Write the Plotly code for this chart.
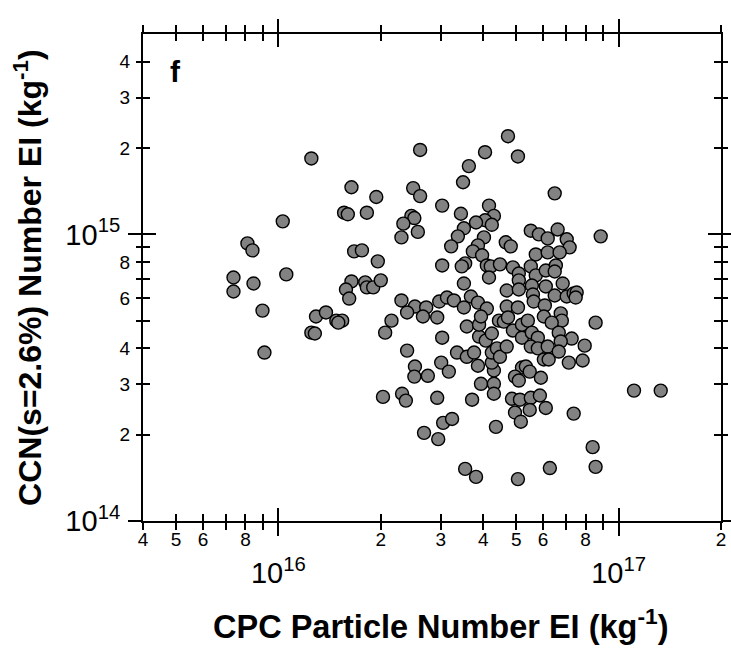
import numpy as np
import plotly.graph_objects as go

# CPC particle number EI, in units of 1e16 kg^-1
cpc_1e16 = [
    1.25, 1.64, 1.94, 1.56, 1.60, 1.82, 1.03, 0.811, 0.839, 1.67, 1.76, 1.96, 1.055, 0.738,
    0.845, 0.738, 1.64, 1.80, 1.82, 1.90, 2.00, 1.58, 1.615, 0.898, 1.29, 1.38, 1.25, 1.28,
    1.48, 1.54, 1.50, 0.910, 2.06, 2.03,
    4.73, 2.61, 4.05, 5.06, 3.63, 3.49, 2.49, 2.61, 3.03, 4.16, 3.44, 2.46, 2.51, 2.33,
    4.30, 4.05, 4.24, 3.81, 3.51, 2.30, 2.57, 3.37, 3.22, 4.02, 3.86, 3.73, 3.97, 4.66,
    4.82, 5.52, 5.83, 6.19, 5.71, 6.19, 3.03, 3.54, 3.46, 4.10, 4.21, 4.48, 4.16, 4.89,
    5.52, 5.09, 5.71, 5.09, 6.11, 3.51, 4.69, 5.09, 5.56, 5.60, 6.11, 2.30, 2.52, 2.72,
    2.97, 3.13, 3.28, 3.51, 3.68, 3.86, 4.10, 4.69, 5.06, 5.63, 6.07, 2.39,
    2.15, 2.66, 2.93, 3.03, 2.39, 2.52, 2.51, 2.75, 3.01, 3.17, 2.31, 2.37, 2.93, 3.71,
    3.05, 3.24, 2.68, 2.95, 4.36, 3.54, 3.81, 5.06, 6.28, 3.35, 3.58, 3.76, 3.86, 3.94,
    4.30, 4.30, 4.30, 4.24, 3.58, 3.89, 3.89, 3.94, 4.07, 4.24, 4.24, 4.39, 4.48, 4.69,
    4.45, 4.60, 4.73, 4.89, 5.20, 5.20, 5.41, 5.56, 5.79, 5.52, 5.79, 6.03, 6.03, 5.20,
    5.34, 5.48, 4.96, 5.09, 5.91, 4.86, 5.13, 5.52, 5.87, 4.96, 5.48, 5.16, 6.11,
    6.49, 8.86, 6.62, 7.04, 7.18, 6.71, 6.54, 6.49, 6.85, 6.49, 7.04, 7.38, 7.53, 7.48, 6.76,
    8.56, 6.81, 6.36, 6.67, 7.28, 6.76, 7.95, 6.19, 6.67, 6.23, 7.14, 7.84, 7.38, 11.1,
    13.3, 8.39, 8.56,
]

# CCN(s=2.6%) number EI, in units of 1e14 kg^-1
ccn_1e14 = [
    18.4, 14.6, 13.5, 11.9, 11.75, 11.9, 11.1, 9.30, 8.79, 8.72, 8.79, 8.05, 7.25, 7.07,
    6.74, 6.32, 6.85, 6.80, 6.53, 6.53, 6.91, 6.42, 5.97, 5.42, 5.17, 5.34, 4.54, 4.51,
    5.00, 5.00, 4.92, 3.87, 4.54, 2.71,
    22.0, 19.7, 19.35, 18.7, 17.3, 15.2, 14.5, 13.6, 12.6, 12.6, 11.8, 11.6, 11.4, 10.9,
    11.6, 11.2, 10.8, 11.0, 10.5, 9.76, 10.2, 9.84, 9.08, 9.76, 9.15, 8.72, 8.45, 9.38,
    9.08, 10.3, 10.0, 9.68, 8.51, 8.65, 7.79, 7.92, 7.73, 7.79, 7.73, 7.86, 7.07, 7.67,
    7.73, 7.30, 7.19, 6.91, 7.48, 6.74, 6.37, 6.42, 6.63, 6.17, 6.58, 5.88, 5.60, 5.56,
    5.83, 6.02, 5.88, 5.56, 6.07, 5.78, 5.51, 5.60, 5.56, 5.83, 5.65, 5.34,
    5.00, 5.17, 5.13, 4.36, 3.93, 3.46, 3.19, 3.21, 3.57, 3.32, 2.78, 2.63, 2.69, 2.65,
    2.20, 2.27, 2.03, 1.93, 2.13, 1.52, 1.425, 1.40, 1.53, 3.87, 3.74, 3.87, 3.48, 3.01,
    3.01, 2.78, 3.35, 3.57, 4.77, 4.40, 4.84, 5.17, 4.26, 4.51, 3.87, 4.00, 3.74, 4.06,
    5.00, 4.96, 5.13, 4.62, 4.36, 4.84, 5.00, 4.54, 4.36, 4.06, 4.00, 3.66, 5.17, 3.43,
    3.46, 3.32, 3.19, 3.09, 3.16, 2.67, 2.65, 2.69, 2.74, 2.39, 2.44, 2.22, 2.48,
    13.9, 9.84, 10.4, 9.61, 9.01, 8.65, 7.79, 7.42, 6.74, 6.12, 6.07, 6.22, 6.27, 6.02, 5.30,
    4.92, 5.00, 4.92, 4.54, 4.33, 4.23, 4.09, 4.06, 3.90, 3.66, 3.57, 3.63, 2.37, 2.85,
    2.85, 1.81, 1.545,
]

# axis tick definitions
x_major_vals = [1e16, 1e17]
x_major_text = ["10<sup>16</sup>", "10<sup>17</sup>"]
x_label_vals = [4e15, 5e15, 6e15, 8e15, 2e16, 3e16, 4e16, 5e16, 6e16, 8e16, 2e17]
x_label_text = ["4", "5", "6", "8", "2", "3", "4", "5", "6", "8", "2"]
x_plain_vals = [7e15, 9e15, 7e16, 9e16]
y_major_vals = [1e14, 1e15]
y_major_text = ["10<sup>14</sup>", "10<sup>15</sup>"]
y_label_vals = [2e14, 3e14, 4e14, 6e14, 8e14, 2e15, 3e15, 4e15]
y_label_text = ["2", "3", "4", "6", "8", "2", "3", "4"]
y_plain_vals = [5e14, 7e14, 9e14]
x_range_lim = [4e15, 2e17]
y_range_lim = [1e14, 5e15]

x_title = "CPC Particle Number EI (kg<sup>-1</sup>)"
y_title = "CCN(s=2.6%) Number EI (kg<sup>-1</sup>)"
panel_label = "f"

cpc = np.array(cpc_1e16) * 1e16
ccn = np.array(ccn_1e14) * 1e14

FONT = "'Liberation Sans', Arial, Helvetica, sans-serif"

fig = go.Figure()
fig.add_trace(go.Scatter(
    x=cpc, y=ccn, mode="markers",
    marker=dict(size=13, color="#828282", line=dict(color="black", width=1.4)),
    showlegend=False, hoverinfo="x+y",
))
# invisible companions so the overlay tick axes are drawn
for k in ("2", "3"):
    fig.add_trace(go.Scatter(
        x=cpc, y=ccn, mode="markers", xaxis="x" + k, yaxis="y" + k,
        marker=dict(size=1, opacity=0), showlegend=False, hoverinfo="skip",
    ))

xr = [np.log10(x_range_lim[0]), np.log10(x_range_lim[1])]
yr = [np.log10(y_range_lim[0]), np.log10(y_range_lim[1])]

common = dict(type="log", showgrid=False, zeroline=False, showline=True,
              linecolor="black", linewidth=2, mirror="ticks",
              tickcolor="black", tickwidth=2, tickmode="array", automargin=False)
tick_font = dict(size=19, family=FONT, color="black")
pow_font = dict(size=29, family=FONT, color="black")

fig.update_layout(
    width=731, height=648, autosize=False,
    margin=dict(l=143, r=10, t=34, b=127, autoexpand=False),
    paper_bgcolor="white", plot_bgcolor="white",
    font=dict(family=FONT, color="black"),
    # outer ticks: long at decades, short at digits; decade labels
    xaxis=dict(**common, range=xr, tickvals=x_major_vals, ticktext=x_major_text,
               ticks="outside", ticklen=13, tickfont=pow_font,
               ticklabelstandoff=12,
               minor=dict(tickmode="array", tickvals=x_label_vals + x_plain_vals,
                          ticks="outside", ticklen=7, tickwidth=2, tickcolor="black")),
    # inner short ticks with digit labels
    xaxis2=dict(**common, range=xr, overlaying="x", anchor="y2", side="bottom",
                tickvals=x_label_vals, ticktext=x_label_text,
                ticks="inside", ticklen=7, tickfont=tick_font,
                ticklabelstandoff=0,
                minor=dict(tickmode="array", tickvals=x_plain_vals, ticks="inside",
                           ticklen=7, tickwidth=2, tickcolor="black")),
    # inner long ticks at decades
    xaxis3=dict(**common, range=xr, overlaying="x", anchor="y3", side="bottom",
                tickvals=x_major_vals, showticklabels=False,
                ticks="inside", ticklen=13),
    yaxis=dict(**common, range=yr, tickvals=y_major_vals, ticktext=y_major_text,
               ticks="outside", ticklen=13, tickfont=pow_font,
               ticklabelstandoff=2,
               minor=dict(tickmode="array", tickvals=y_label_vals + y_plain_vals,
                          ticks="outside", ticklen=5, tickwidth=2, tickcolor="black")),
    yaxis2=dict(**common, range=yr, overlaying="y", anchor="x2", side="left",
                tickvals=y_label_vals, ticktext=y_label_text,
                ticks="inside", ticklen=7, tickfont=tick_font,
                ticklabelstandoff=7,
                minor=dict(tickmode="array", tickvals=y_plain_vals, ticks="inside",
                           ticklen=7, tickwidth=2, tickcolor="black")),
    yaxis3=dict(**common, range=yr, overlaying="y", anchor="x3", side="left",
                tickvals=y_major_vals, showticklabels=False,
                ticks="inside", ticklen=13),
    annotations=[
        dict(text=panel_label, xref="paper", yref="paper", x=0.057, y=0.924,
             xanchor="center", yanchor="middle", showarrow=False,
             font=dict(size=30, family=FONT, color="black", weight="bold")),
        dict(text=x_title, xref="paper", yref="paper", x=0.514, y=-0.211,
             xanchor="center", yanchor="middle", showarrow=False,
             font=dict(size=32.5, family=FONT, color="black", weight="bold")),
        dict(text=y_title, xref="paper", yref="paper", x=-0.2, y=0.5,
             xanchor="center", yanchor="middle", showarrow=False, textangle=-90,
             font=dict(size=32, family=FONT, color="black", weight="bold")),
    ],
)

fig.write_html("out.html")
